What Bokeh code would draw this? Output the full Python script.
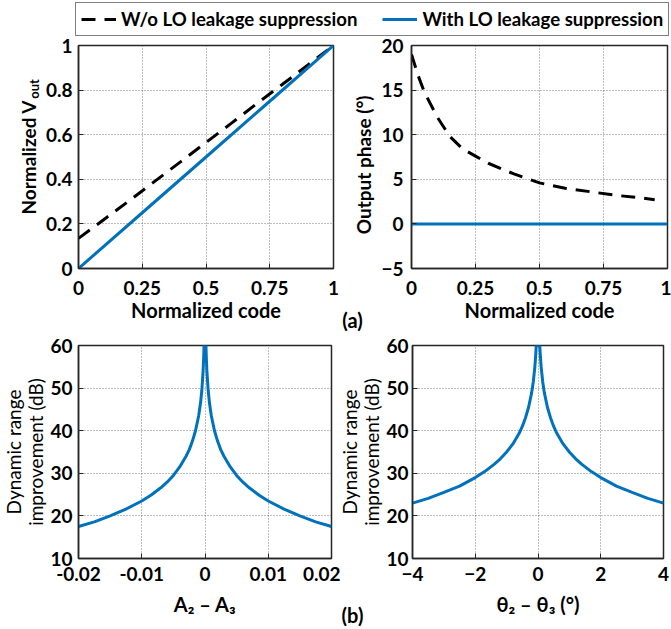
import math
from bokeh.plotting import figure
from bokeh.models import Range1d, FixedTicker, Legend, LegendItem
from bokeh.layouts import column, row
from bokeh.embed import file_html
from bokeh.resources import INLINE
from bokeh.core.properties import value

# ---------------- data ----------------
# (a) left: normalized Vout vs normalized code
code_with = [0.0, 0.25, 0.5, 0.75, 1.0]
vout_with = [0.0, 0.25, 0.5, 0.75, 1.0]
code_wo = [0.0, 0.1, 0.2, 0.3, 0.4, 0.5, 0.6, 0.7, 0.8, 0.9, 1.0]
vout_wo = [0.135, 0.22, 0.305, 0.392, 0.478, 0.565, 0.652, 0.74, 0.826, 0.913, 1.0]

# (a) right: output phase vs normalized code
code_ph_wo = [0.0, 0.025, 0.05, 0.1, 0.15, 0.2, 0.25, 0.3, 0.4, 0.5, 0.6, 0.7, 0.8, 0.9, 0.95]
phase_wo = [19.0, 16.7, 14.8, 12.0, 9.8, 8.4, 7.6, 6.8, 5.6, 4.6, 4.0, 3.6, 3.2, 2.9, 2.7]
code_ph_with = [0.0, 1.0]
phase_with = [0.0, 0.0]

# (b) left: dynamic range improvement vs A2 - A3
amp_diff = [-0.02, -0.0175, -0.015, -0.0125, -0.01, -0.0085, -0.007, -0.006, -0.005, -0.004,
            -0.003, -0.0025, -0.002, -0.0015, -0.001, -0.0007, -0.0005, -0.0003, -0.0002, -0.00015,
            0.0,
            0.00015, 0.0002, 0.0003, 0.0005, 0.0007, 0.001, 0.0015, 0.002, 0.0025, 0.003,
            0.004, 0.005, 0.006, 0.007, 0.0085, 0.01, 0.0125, 0.015, 0.0175, 0.02]
dr_amp = [17.5, 18.6, 20.0, 21.6, 23.5, 24.9, 26.6, 27.9, 29.5, 31.5,
          34.0, 35.5, 37.5, 40.0, 43.5, 46.6, 49.5, 54.0, 57.5, 60.0,
          60.0,
          60.0, 57.5, 54.0, 49.5, 46.6, 43.5, 40.0, 37.5, 35.5, 34.0,
          31.5, 29.5, 27.9, 26.6, 24.9, 23.5, 21.6, 20.0, 18.6, 17.5]

# (b) right: dynamic range improvement vs theta2 - theta3 (deg)
ph_diff = [-4.0, -3.5, -3.0, -2.5, -2.0, -1.7, -1.4, -1.2, -1.0, -0.8, -0.6, -0.5, -0.4,
           -0.3, -0.2, -0.15, -0.1, -0.07, -0.056,
           0.0,
           0.056, 0.07, 0.1, 0.15, 0.2, 0.3, 0.4, 0.5, 0.6, 0.8, 1.0, 1.2, 1.4, 1.7,
           2.0, 2.5, 3.0, 3.5, 4.0]
dr_ph = [23.0, 24.1, 25.5, 27.0, 29.0, 30.4, 32.1, 33.4, 35.0, 36.9, 39.4, 41.0, 43.0,
         45.5, 49.0, 51.5, 55.0, 58.1, 60.0,
         60.0,
         60.0, 58.1, 55.0, 51.5, 49.0, 45.5, 43.0, 41.0, 39.4, 36.9, 35.0, 33.4, 32.1, 30.4,
         29.0, 27.0, 25.5, 24.1, 23.0]

ticks_code = [0, 0.25, 0.5, 0.75, 1]
ticks_code_lbl = ["0", "0.25", "0.5", "0.75", "1"]
ticks_vout = [0, 0.2, 0.4, 0.6, 0.8, 1]
ticks_vout_lbl = ["0", "0.2", "0.4", "0.6", "0.8", "1"]
ticks_phase = [-5, 0, 5, 10, 15, 20]
ticks_amp = [-0.02, -0.01, 0, 0.01, 0.02]
ticks_amp_lbl = ["-0.02", "-0.01", "0", "0.01", "0.02"]
ticks_dr = [10, 20, 30, 40, 50, 60]
ticks_phd = [-4, -2, 0, 2, 4]

label_wo = "W/o LO leakage suppression"
label_with = "With LO leakage suppression"

# ---------------- style ----------------
FONT = "Lato"
BLUE = "#0072BD"
DARK = "#262626"
DASH = "14 9"
LW = 3
TICK_FS = "19px"
XLAB_FS = "20px"
YLAB_FS = "19px"

# layout (page pixels)
LEG_H = 37
ROW1_TOP, ROW1_H = 37, 297      # frames 45..271
ROW2_TOP, ROW2_H = 334, 295     # frames 345..561
R1_BT, R1_BB = 8, 63
R2_BT, R2_BB = 11, 68


def make_fig(w, h, xr, yr, bl, br, bt, bb):
    p = figure(width=w, height=h, x_range=Range1d(*xr), y_range=Range1d(*yr),
               toolbar_location=None, output_backend="svg",
               min_border_left=bl, min_border_right=br,
               min_border_top=bt, min_border_bottom=bb)
    p.outline_line_color = DARK
    p.outline_line_width = 1.5
    p.outline_line_alpha = 1.0
    for ax in p.axis:
        ax.axis_line_color = DARK
        ax.axis_line_width = 1.5
        ax.major_tick_in = 5
        ax.major_tick_out = 0
        ax.minor_tick_line_color = None
        ax.major_tick_line_color = DARK
        ax.major_tick_line_width = 1
        ax.major_label_text_font = FONT
        ax.major_label_text_font_style = "bold"
        ax.major_label_text_font_size = TICK_FS
        ax.major_label_text_color = "black"
        ax.axis_label_text_font = FONT
        ax.axis_label_text_font_size = XLAB_FS
        ax.axis_label_text_font_style = "bold"
        ax.axis_label_text_color = "black"
    for g in (p.xgrid, p.ygrid):
        g.grid_line_color = DARK
        g.grid_line_alpha = 0.6
        g.grid_line_dash = "1 2"
        g.grid_line_width = 1
    return p


def text_strip(x0, w, h, bt, bb, frame_top, frame_bottom, tag=None, tag_x=None, tag_standoff=0):
    """Blank strip; data x = page x, data y = -page y inside its frame.
    An optional tag such as "(a)" is drawn as the only tick label of a bare axis below."""
    s = figure(width=w, height=h, x_range=Range1d(x0, x0 + w),
               y_range=Range1d(-frame_bottom, -frame_top),
               y_axis_type=None, toolbar_location=None, output_backend="svg",
               min_border_left=0, min_border_right=0,
               min_border_top=bt, min_border_bottom=bb)
    s.outline_line_color = None
    s.grid.visible = False
    ax = s.xaxis[0]
    ax.axis_line_color = None
    ax.major_tick_line_color = None
    ax.minor_tick_line_color = None
    ax.major_tick_in = 0
    ax.major_tick_out = 0
    if tag is None:
        ax.ticker = FixedTicker(ticks=[])
        ax.major_label_standoff = 0
    else:
        ax.ticker = FixedTicker(ticks=[tag_x])
        ax.major_label_overrides = {tag_x: tag}
        ax.major_label_standoff = tag_standoff
        ax.major_label_text_font = FONT
        ax.major_label_text_font_style = "bold"
        ax.major_label_text_font_size = XLAB_FS
        ax.major_label_text_color = "black"
    return s


def put_text(s, x, y, txt, size, bold=True, angle=0.0, align="center", baseline="middle"):
    s.text(x=[x], y=[y], text=[txt], angle=angle, text_align=align,
           text_baseline=baseline, text_font=value(FONT),
           text_font_style="bold" if bold else "normal",
           text_font_size=size, text_color="black")


# ---------------- legend strip ----------------
pleg = figure(width=671, height=LEG_H, x_range=Range1d(100, 101), y_range=Range1d(100, 101),
              x_axis_type=None, y_axis_type=None, toolbar_location=None,
              output_backend="svg", min_border=0)
pleg.outline_line_color = None
pleg.grid.visible = False
r_wo = pleg.line(code_wo, vout_wo, line_color="black", line_width=LW, line_dash=DASH)
r_with = pleg.line(code_with, vout_with, line_color=BLUE, line_width=LW)
leg = Legend(items=[LegendItem(label=label_wo, renderers=[r_wo]),
                    LegendItem(label=label_with, renderers=[r_with])],
             orientation="horizontal", location=(75, 1))
leg.label_text_font = FONT
leg.label_text_font_style = "bold"
leg.label_text_font_size = "18.6px"
leg.label_text_color = "black"
leg.glyph_width = 35
leg.glyph_height = 20
leg.label_height = 20
leg.label_standoff = 5
leg.spacing = 25
leg.padding = 5
leg.margin = 0
leg.border_line_color = "black"
leg.border_line_width = 1.5
leg.background_fill_alpha = 1.0
pleg.add_layout(leg)

# ---------------- row 1 ----------------
F1_TOP, F1_BOT = ROW1_TOP + R1_BT, ROW1_TOP + ROW1_H - R1_BB   # 45, 271

s1 = text_strip(0, 42, ROW1_H, R1_BT, R1_BB, F1_TOP, F1_BOT)
put_text(s1, 28, -100, "Normalized V", YLAB_FS, angle=math.pi / 2, align="right")
put_text(s1, 33.5, -99, "out", "13px", angle=math.pi / 2, align="left")

p1 = make_fig(298, ROW1_H, (0, 1), (0, 1), 33, 7, R1_BT, R1_BB)
p1.line(code_wo, vout_wo, line_color="black", line_width=LW, line_dash=DASH)
p1.line(code_with, vout_with, line_color=BLUE, line_width=LW)
p1.xaxis.ticker = FixedTicker(ticks=ticks_code)
p1.xaxis.major_label_overrides = dict(zip(ticks_code, ticks_code_lbl))
p1.yaxis.ticker = FixedTicker(ticks=ticks_vout)
p1.yaxis.major_label_overrides = dict(zip(ticks_vout, ticks_vout_lbl))
p1.xaxis.axis_label = "Normalized code"
p1.xaxis.major_label_standoff = 12
p1.xaxis.axis_label_standoff = 0
p1.yaxis.major_label_standoff = 6
p1.xgrid.ticker = FixedTicker(ticks=ticks_code)
p1.ygrid.ticker = FixedTicker(ticks=ticks_vout)

s2 = text_strip(340, 38, ROW1_H, R1_BT, R1_BB, F1_TOP, F1_BOT,
                tag="(a)", tag_x=352, tag_standoff=39)
put_text(s2, 363, -166, "Output phase (°)", YLAB_FS, angle=math.pi / 2, align="center")

p2 = make_fig(293, ROW1_H, (0, 1), (-5, 20), 31, 4, R1_BT, R1_BB)
p2.line(code_ph_wo, phase_wo, line_color="black", line_width=LW, line_dash=DASH)
p2.line(code_ph_with, phase_with, line_color=BLUE, line_width=LW)
p2.xaxis.ticker = FixedTicker(ticks=ticks_code)
p2.xaxis.major_label_overrides = dict(zip(ticks_code, ticks_code_lbl))
p2.yaxis.ticker = FixedTicker(ticks=ticks_phase)
p2.xaxis.axis_label = "Normalized code"
p2.xaxis.major_label_standoff = 12
p2.xaxis.axis_label_standoff = 0
p2.yaxis.major_label_standoff = 8
p2.xgrid.ticker = FixedTicker(ticks=ticks_code)
p2.ygrid.ticker = FixedTicker(ticks=ticks_phase)

# ---------------- row 2 ----------------
F2_TOP, F2_BOT = ROW2_TOP + R2_BT, ROW2_TOP + ROW2_H - R2_BB   # 345, 561
DR_MID = -453

s3 = text_strip(0, 47, ROW2_H, R2_BT, R2_BB, F2_TOP, F2_BOT)
put_text(s3, 13, DR_MID, "Dynamic range", YLAB_FS, bold=False, angle=math.pi / 2)
put_text(s3, 35, DR_MID, "improvement (dB)", YLAB_FS, bold=False, angle=math.pi / 2)

p3 = make_fig(293, ROW2_H, (-0.02, 0.02), (10, 60), 29, 9, R2_BT, R2_BB)
p3.line(amp_diff, dr_amp, line_color=BLUE, line_width=LW)
p3.xaxis.ticker = FixedTicker(ticks=ticks_amp)
p3.xaxis.major_label_overrides = dict(zip(ticks_amp, ticks_amp_lbl))
p3.yaxis.ticker = FixedTicker(ticks=ticks_dr)
p3.xaxis.axis_label = "A\u2082 \u2013 A\u2083"
p3.xaxis.major_label_standoff = 8
p3.xaxis.axis_label_standoff = 8
p3.yaxis.major_label_standoff = 6
p3.xgrid.ticker = FixedTicker(ticks=ticks_amp)
p3.ygrid.ticker = FixedTicker(ticks=ticks_dr)

s4 = text_strip(340, 43, ROW2_H, R2_BT, R2_BB, F2_TOP, F2_BOT,
                tag="(b)", tag_x=352, tag_standoff=44)
put_text(s4, 349, DR_MID, "Dynamic range", YLAB_FS, bold=False, angle=math.pi / 2)
put_text(s4, 371, DR_MID, "improvement (dB)", YLAB_FS, bold=False, angle=math.pi / 2)

p4 = make_fig(288, ROW2_H, (-4, 4), (10, 60), 26, 8, R2_BT, R2_BB)
p4.line(ph_diff, dr_ph, line_color=BLUE, line_width=LW)
p4.xaxis.ticker = FixedTicker(ticks=ticks_phd)
p4.yaxis.ticker = FixedTicker(ticks=ticks_dr)
p4.xaxis.axis_label = "\u03b8\u2082 \u2013 \u03b8\u2083 (°)"
p4.xaxis.major_label_standoff = 8
p4.xaxis.axis_label_standoff = 8
p4.yaxis.major_label_standoff = 4
p4.xgrid.ticker = FixedTicker(ticks=ticks_phd)
p4.ygrid.ticker = FixedTicker(ticks=ticks_dr)

layout = column(pleg, row(s1, p1, s2, p2), row(s3, p3, s4, p4))
open("out.html", "w").write(file_html(layout, INLINE))
